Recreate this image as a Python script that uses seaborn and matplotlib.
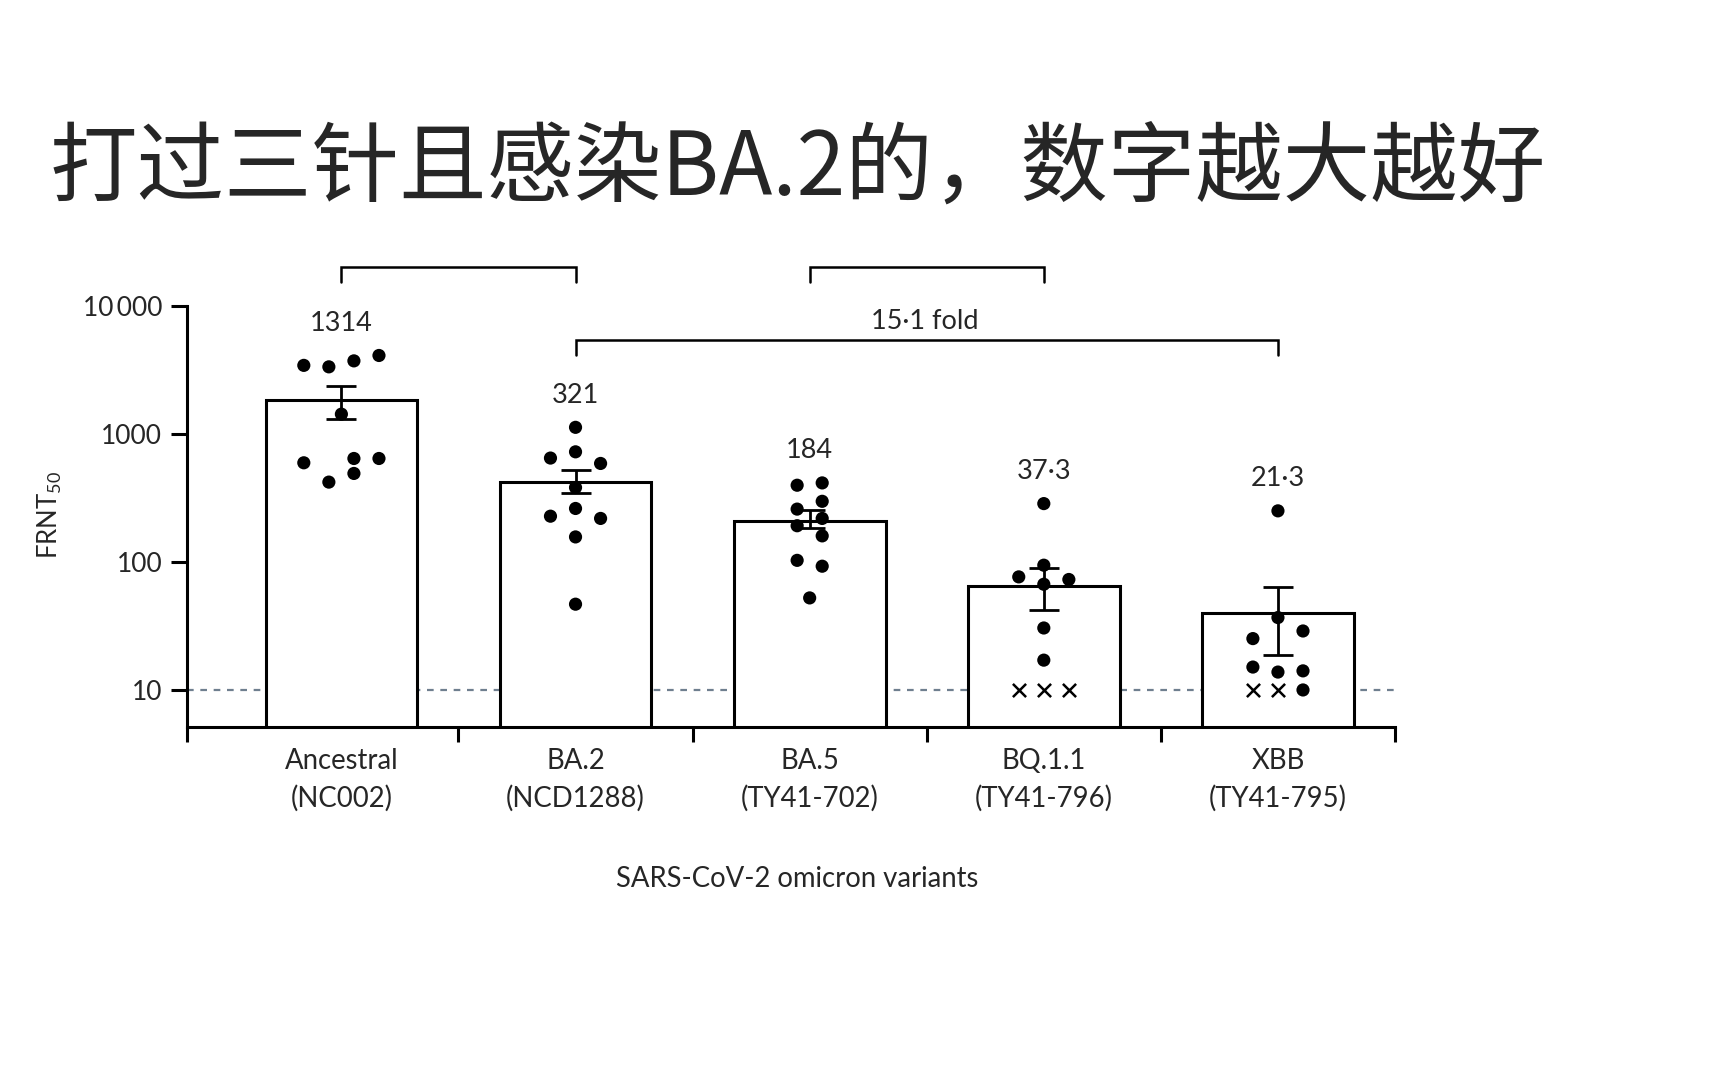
import numpy as np
import pandas as pd
import matplotlib
matplotlib.use("Agg")
import matplotlib.pyplot as plt
import seaborn as sns
from matplotlib.ticker import FixedLocator, NullLocator

# ---------------- data ----------------
variants = ["Ancestral\n(NC002)", "BA.2\n(NCD1288)", "BA.5\n(TY41-702)",
            "BQ.1.1\n(TY41-796)", "XBB\n(TY41-795)"]
bar_heights = [1833, 423, 210, 65, 40.3]
err_upper = [2371, 528, 254, 90, 63.8]
err_lower = [1300, 344, 186, 42.5, 18.6]
gmt_labels = ["1314", "321", "184", "37·3", "21·3"]

ancestral_vals = [3440, 3350, 3730, 4110, 1430, 596, 421, 644, 492, 644]
ba2_vals = [1128, 726, 649, 589, 382, 262, 228, 219, 157, 46.8]
ba5_vals = [398, 415, 298, 259, 219, 192, 160, 103, 92.7, 52.4]
bq11_vals = [286, 94.4, 76.5, 73, 67, 30.5, 17.1, 10, 10, 10]
xbb_vals = [251, 36.8, 28.9, 25.2, 15.1, 13.8, 14.1, 10, 10, 10]

ancestral_below_lod = [False] * 10
ba2_below_lod = [False] * 10
ba5_below_lod = [False] * 10
bq11_below_lod = [False] * 7 + [True] * 3
xbb_below_lod = [False] * 7 + [False, True, True]

fold_text = "15·1 fold"
lod = 10

# ---------------- layout (dot columns) ----------------
ancestral_slots = [-1.5, -0.5, 0.5, 1.5, 0, -1.5, -0.5, 0.5, 0.5, 1.5]
ba2_slots = [0, 0, -1, 1, 0, 0, -1, 1, 0, 0]
ba5_slots = [-0.5, 0.5, 0.5, -0.5, 0.5, -0.5, 0.5, -0.5, 0.5, 0]
bq11_slots = [0, 0, -1, 1, 0, 0, 0, -1, 0, 1]
xbb_slots = [0, 0, 1, -1, -1, 0, 1, 1, -1, 0]
slot_step = 0.107

groups = [
    (ancestral_vals, ancestral_below_lod, ancestral_slots),
    (ba2_vals, ba2_below_lod, ba2_slots),
    (ba5_vals, ba5_below_lod, ba5_slots),
    (bq11_vals, bq11_below_lod, bq11_slots),
    (xbb_vals, xbb_below_lod, xbb_slots),
]
rows = []
for gi, (vals, cens, slots) in enumerate(groups):
    for v, c, s in zip(vals, cens, slots):
        rows.append({"group": gi, "value": v, "censored": c,
                     "x": gi + s * slot_step})
dots = pd.DataFrame(rows)
bars = pd.DataFrame({"variant": variants, "height": bar_heights})

# ---------------- style ----------------
sns.set_style("ticks")
plt.rcParams["font.family"] = ["Lato", "DejaVu Sans"]
plt.rcParams["mathtext.default"] = "regular"
LW = 2.2

fig = plt.figure(figsize=(17.28, 10.8), dpi=100)
ax = fig.add_axes([0.108, 0.3271, 0.6993, 0.4606])
ax.set_yscale("log")

sns.barplot(data=bars, x="variant", y="height", order=variants, ax=ax,
            color="white", edgecolor="black", linewidth=LW, width=0.648,
            saturation=1, errorbar=None, zorder=2)

ax.errorbar(x=np.arange(len(variants)), y=bar_heights,
            yerr=[np.array(bar_heights) - np.array(err_lower),
                  np.array(err_upper) - np.array(bar_heights)],
            fmt="none", ecolor="black", elinewidth=2, capsize=10.5,
            capthick=2, zorder=3)

sns.scatterplot(data=dots[~dots["censored"]], x="x", y="value", ax=ax,
                color="black", s=90, edgecolor="none", zorder=4, legend=False)
sns.scatterplot(data=dots[dots["censored"]], x="x", y="value", ax=ax,
                color="black", marker="x", s=90, linewidth=1.8, zorder=4,
                legend=False)

ax.axhline(lod, color="#6f7f8f", lw=1.6, ls=(0, (3, 3)), zorder=1)

# axes limits / spines
xl, xr = -0.661, 4.5
ax.set_xlim(xl, xr)
ybot, ytop = 5.16, 10 ** 4.6
ax.set_ylim(ybot, ytop)
sns.despine(ax=ax)
ax.spines["left"].set_bounds(ybot, 10000)
for sp in ("left", "bottom"):
    ax.spines[sp].set_linewidth(LW)
    ax.spines[sp].set_color("black")

ax.yaxis.set_major_locator(FixedLocator([10, 100, 1000, 10000]))
ax.yaxis.set_minor_locator(NullLocator())
ax.set_yticklabels(["10", "100", "1000", "10\u2009000"])
ax.tick_params(axis="y", which="major", length=11.5, width=LW,
               labelsize=19, pad=6, color="black")

ax.set_xticks(np.arange(len(variants)))
ax.set_xticklabels(variants, fontsize=19.8, linespacing=1.5)
ax.xaxis.set_minor_locator(FixedLocator([xl, 0.5, 1.5, 2.5, 3.5, 4.5]))
ax.tick_params(axis="x", which="major", length=0, pad=15)
ax.tick_params(axis="x", which="minor", length=11, width=LW, color="black")

ax.set_xlabel("SARS-CoV-2 omicron variants", fontsize=19.8, va="center")
ax.xaxis.set_label_coords(0.505, -0.306)
ax.set_ylabel("FRNT$_{50}$", fontsize=18.5, va="center")
ax.yaxis.set_label_coords(-0.113, 0.4256)

# GMT labels above the highest dot
for gi, (vals, _, _) in enumerate(groups):
    ax.annotate(gmt_labels[gi], xy=(gi, max(vals)), xytext=(0, 23),
                textcoords="offset points", ha="center", va="center",
                fontsize=19.5, annotation_clip=False)

# comparison brackets
def bracket(x0, x1, y_line, y_tip):
    ax.plot([x0, x0, x1, x1], [y_tip, y_line, y_line, y_tip], color="black",
            lw=1.8, clip_on=False, solid_joinstyle="miter", zorder=5)

bracket(0, 1, 10 ** 4.307, 10 ** 4.19)
bracket(2, 3, 10 ** 4.307, 10 ** 4.19)
bracket(1, 4, 10 ** 3.734, 10 ** 3.617)
ax.text(2.49, 10 ** 3.877, fold_text, ha="center", va="center", fontsize=19.5)

# title
fig.text(50 / 1728, 1 - 170 / 1080, "打过三针且感染BA.2的，数字越大越好",
         fontsize=63, va="center", ha="left", fontweight="light",
         family=["Noto Sans CJK SC", "DejaVu Sans"])

fig.savefig("out.png", dpi=100, facecolor="white")
